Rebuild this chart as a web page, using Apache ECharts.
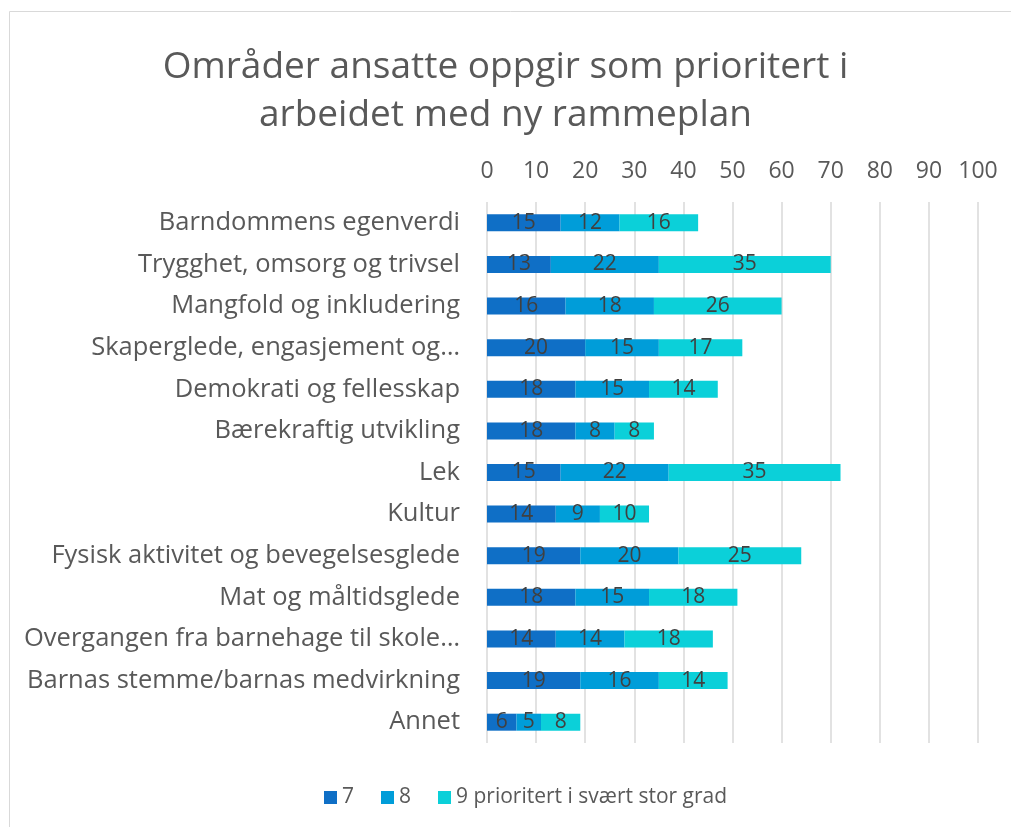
<!DOCTYPE html>
<html>
<head>
<meta charset="utf-8">
<script src="https://cdn.jsdelivr.net/npm/echarts@6/dist/echarts.min.js"></script>
<style>
  html, body { margin: 0; padding: 0; background: #fff; }
  #chart { width: 1011px; height: 827px; }
</style>
</head>
<body>
<div id="chart"></div>
<script>
const categories = [
  'Barndommens egenverdi',
  'Trygghet, omsorg og trivsel',
  'Mangfold og inkludering',
  'Skaperglede, engasjement og…',
  'Demokrati og fellesskap',
  'Bærekraftig utvikling',
  'Lek',
  'Kultur',
  'Fysisk aktivitet og bevegelsesglede',
  'Mat og måltidsglede',
  'Overgangen fra barnehage til skole…',
  'Barnas stemme/barnas medvirkning',
  'Annet'
]
const seriesNames = ['7', '8', '9 prioritert i svært stor grad']
const values7 = [15, 13, 16, 20, 18, 18, 15, 14, 19, 18, 14, 19, 6]
const values8 = [12, 22, 18, 15, 15, 8, 22, 9, 20, 15, 14, 16, 5]
const values9 = [16, 35, 26, 17, 14, 8, 35, 10, 25, 18, 18, 14, 8]
const colors = ['#0f6fc6', '#009dd9', '#0bd0d9']

const font = '"Open Sans", "Noto Sans", sans-serif'

const chart = echarts.init(document.getElementById('chart'))

const makeSeries = (name, data, color) => ({
  name,
  type: 'bar',
  stack: 'total',
  data,
  barWidth: 17,
  itemStyle: { color },
  label: {
    show: true,
    position: 'inside',
    color: '#404040',
    fontSize: 21,
    fontFamily: font
  },
  emphasis: { disabled: true }
})

chart.setOption({
  animation: false,
  color: colors,
  title: {
    text: 'Områder ansatte oppgir som prioritert i\narbeidet med ny rammeplan',
    left: 'center',
    top: 38,
    textStyle: {
      color: '#595959',
      fontSize: 37,
      fontWeight: 'normal',
      fontFamily: font,
      lineHeight: 48
    }
  },
  graphic: [{
    type: 'rect',
    shape: { x: 9.5, y: 11.5, width: 1020, height: 830 },
    style: { fill: 'none', stroke: '#d9d9d9', lineWidth: 1 },
    silent: true
  }],
  legend: {
    bottom: 14,
    left: 319,
    itemWidth: 13,
    itemHeight: 13,
    itemGap: 27,
    icon: 'rect',
    textStyle: { color: '#595959', fontSize: 21, fontFamily: font }
  },
  grid: {
    left: 487,
    right: 33,
    top: 202,
    bottom: 84,
    containLabel: false
  },
  xAxis: {
    type: 'value',
    position: 'top',
    min: 0,
    max: 100,
    interval: 10,
    axisLine: { show: false },
    axisTick: { show: false },
    axisLabel: { color: '#595959', fontSize: 23, fontFamily: font, margin: 19 },
    splitLine: { lineStyle: { color: '#d9d9d9', width: 1.5 } }
  },
  yAxis: {
    type: 'category',
    inverse: true,
    data: categories,
    axisLine: { show: false },
    axisTick: { show: false },
    axisLabel: { color: '#595959', fontSize: 25.5, fontFamily: font, margin: 27 }
  },
  series: [
    makeSeries(seriesNames[0], values7, colors[0]),
    makeSeries(seriesNames[1], values8, colors[1]),
    makeSeries(seriesNames[2], values9, colors[2])
  ]
})
</script>
</body>
</html>
